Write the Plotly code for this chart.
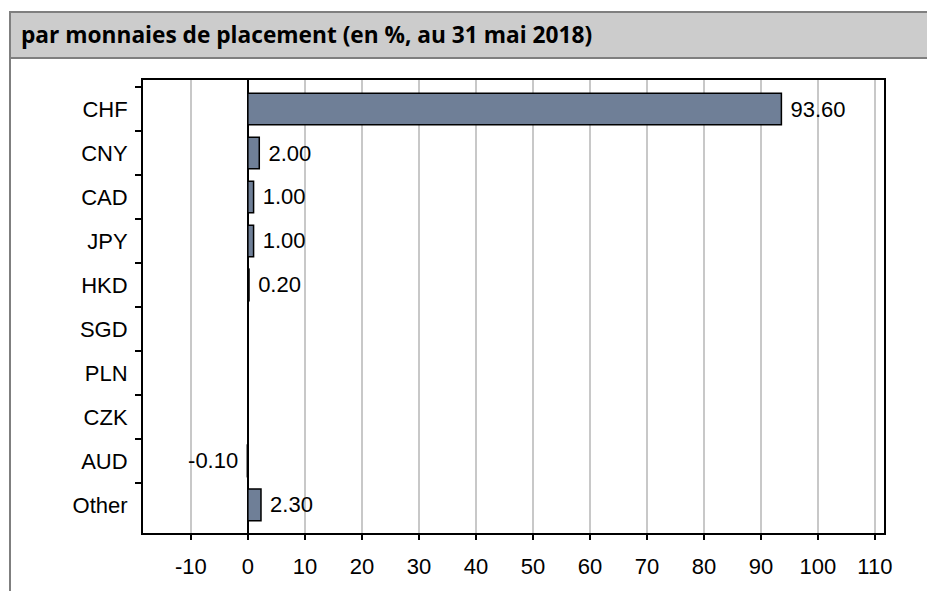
import plotly.graph_objects as go

categories = ["CHF", "CNY", "CAD", "JPY", "HKD", "SGD", "PLN", "CZK", "AUD", "Other"]
values = [93.6, 2.0, 1.0, 1.0, 0.2, None, None, None, -0.1, 2.3]
labels = ["93.60", "2.00", "1.00", "1.00", "0.20", "", "", "", "-0.10", "2.30"]
x_ticks = [-10, 0, 10, 20, 30, 40, 50, 60, 70, 80, 90, 100, 110]
title_text = "par monnaies de placement (en %, au 31 mai 2018)"

W, H = 927, 591
L, R, T, B = 143, 884, 80, 533
pw, ph = R - L, B - T

def px(x):
    return (x - L) / pw

def py(y):
    return (B - y) / ph

NB = "\u00a0"
shown = [(NB + t if (v is not None and v >= 0) else t + NB) if t else "" for t, v in zip(labels, values)]

fig = go.Figure()
fig.add_trace(go.Bar(
    y=categories, x=values, orientation="h",
    text=shown, textposition="outside", cliponaxis=False,
    textfont=dict(family="Arial", size=22, color="black"),
    marker=dict(color="#6f7f97", line=dict(color="black", width=1.5)),
    width=0.72,
))

fig.update_layout(
    width=W, height=H,
    margin=dict(l=L, r=W - R, t=T, b=H - B),
    paper_bgcolor="white", plot_bgcolor="white",
    showlegend=False,
    font=dict(family="Arial", size=22, color="black"),
    xaxis=dict(
        range=[-18.4, 111.6], tickvals=x_ticks, ticktext=[str(v) for v in x_ticks],
        showgrid=True, gridcolor="#c8c8c8", gridwidth=2,
        zeroline=True, zerolinecolor="black", zerolinewidth=2,
        showline=True, linecolor="black", linewidth=2, mirror=True,
        ticks="outside", ticklen=5, tickwidth=2, tickcolor="black",
        ticklabelstandoff=8,
    ),
    yaxis=dict(
        categoryorder="array", categoryarray=categories,
        range=[9.64, -0.66],
        showline=True, linecolor="black", linewidth=2, mirror=True,
        ticks="outside", ticklen=6, tickwidth=2, tickcolor="black",
        tickson="boundaries", showgrid=False,
        ticklabelstandoff=9,
    ),
    shapes=[
        dict(type="rect", xref="paper", yref="paper",
             x0=px(10), x1=px(W + 5), y0=py(58), y1=py(12),
             fillcolor="#cccccc", line=dict(color="#7f7f7f", width=2), layer="below"),
        dict(type="line", xref="paper", yref="paper",
             x0=px(10), x1=px(10), y0=py(58), y1=py(H + 5),
             line=dict(color="#7f7f7f", width=2)),
    ],
    annotations=[
        dict(text="<b>" + title_text + "</b>", xref="paper", yref="paper",
             x=px(19), y=py(35), xanchor="left", yanchor="middle", showarrow=False,
             font=dict(family="Open Sans", size=22.7, color="black")),
    ],
)

fig.write_html("out.html", config={"displayModeBar": False},
               post_script="document.body.style.margin='0';document.body.style.overflow='hidden';")
